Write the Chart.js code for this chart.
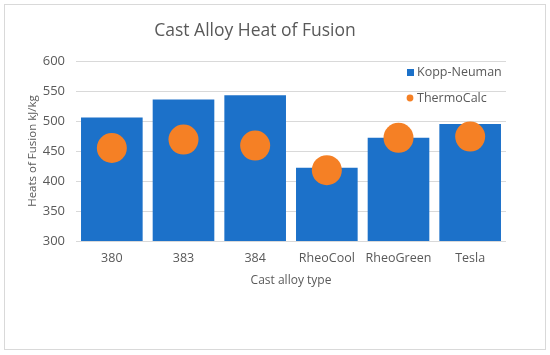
<!DOCTYPE html>
<html>
<head>
<meta charset="utf-8">
<script src="https://cdn.jsdelivr.net/npm/chart.js@4/dist/chart.umd.min.js"></script>
<style>
  html, body { margin: 0; padding: 0; background: #fff; }
  #wrap { position: relative; width: 550px; height: 355px; }
  #frame { position: absolute; left: 4px; top: 4px; width: 540px; height: 344px; border: 1px solid #d9d9d9; }
  #c { position: absolute; left: 0; top: 0; }
</style>
</head>
<body>
<div id="wrap">
  <div id="frame"></div>
  <canvas id="c" width="521" height="355"></canvas>
</div>
<script>
const alloys = ['380', '383', '384', 'RheoCool', 'RheoGreen', 'Tesla']
const koppNeuman = [506, 536, 543, 422, 472, 495]
const thermoCalc = [455, 469, 459, 418, 472, 474]
const yTicks = [300, 350, 400, 450, 500, 550, 600]

const blue = '#1c71c9'
const orange = '#f58025'
const grey = '#595959'
const font = '"Open Sans", "DejaVu Sans", sans-serif'

// legend sits inside the plot, top right, like the excel original
const insideLegend = {
    id: 'insideLegend',
    afterDraw(chart) {
        const ctx = chart.ctx
        const ds = chart.data.datasets
        ctx.save()
        ctx.font = '12.5px ' + font
        ctx.textBaseline = 'middle'

        ctx.fillStyle = ds[0].backgroundColor
        ctx.fillRect(407, 69, 7, 7)
        ctx.fillStyle = grey
        ctx.fillText(ds[0].label, 417, 72.5)

        ctx.fillStyle = ds[1].backgroundColor
        ctx.beginPath()
        ctx.arc(410, 98, 3.4, 0, Math.PI * 2)
        ctx.fill()
        ctx.fillStyle = grey
        ctx.fillText(ds[1].label, 417, 98)
        ctx.restore()
    }
}

new Chart(document.getElementById('c'), {
    type: 'bar',
    data: {
        labels: alloys,
        datasets: [
            {
                label: 'Kopp-Neuman',
                data: koppNeuman,
                backgroundColor: blue,
                barPercentage: 0.86,
                categoryPercentage: 1,
                order: 2
            },
            {
                type: 'line',
                label: 'ThermoCalc',
                data: thermoCalc,
                showLine: false,
                backgroundColor: orange,
                borderColor: orange,
                pointRadius: 15,
                pointBorderWidth: 0,
                order: 1
            }
        ]
    },
    options: {
        responsive: false,
        animation: false,
        layout: { padding: { top: 0, left: 0, right: 11, bottom: 67 } },
        plugins: {
            legend: { display: false },
            tooltip: { enabled: false },
            title: {
                display: true,
                text: 'Cast Alloy Heat of Fusion',
                color: grey,
                font: { family: font, size: 17.5, weight: 'normal' },
                padding: { top: 20.5, bottom: 19.5 }
            }
        },
        scales: {
            x: {
                grid: { display: false, drawTicks: false },
                border: { display: false },
                ticks: {
                    color: grey, padding: 10, maxRotation: 0, minRotation: 0, autoSkip: false,
                    font: { family: font, size: 12.5 }
                },
                title: {
                    display: true,
                    text: 'Cast alloy type',
                    color: grey,
                    font: { family: font, size: 12 },
                    padding: { top: 0, bottom: 0 }
                },
                afterFit: s => { s.height = 47 }
            },
            y: {
                min: 300,
                max: 600,
                afterBuildTicks: s => { s.ticks = yTicks.map(v => ({ value: v })) },
                grid: { color: '#d9d9d9', drawTicks: false },
                border: { display: false },
                ticks: { color: grey, padding: 11, font: { family: font, size: 13 } },
                title: {
                    display: true,
                    text: 'Heats of Fusion kJ/kg',
                    color: grey,
                    font: { family: font, size: 11.5 },
                    padding: { top: 26, bottom: 0 }
                },
                afterFit: s => { s.width = 76 }
            }
        }
    },
    plugins: [insideLegend]
})
</script>
</body>
</html>
